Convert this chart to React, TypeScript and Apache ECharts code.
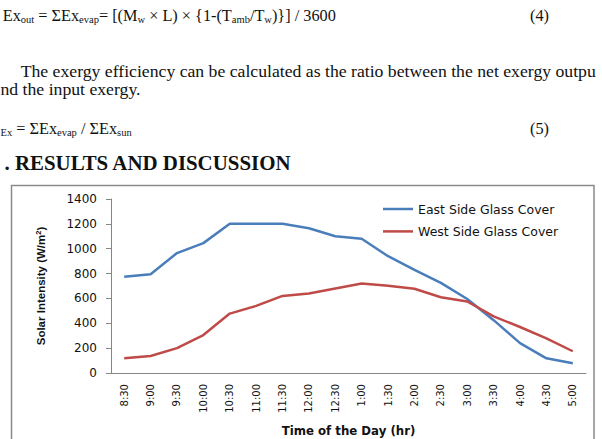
import React, { useEffect, useRef } from 'react';
import * as echarts from 'echarts';

const categories = ['8:30', '9:00', '9:30', '10:00', '10:30', '11:00', '11:30', '12:00', '12:30', '1:00', '1:30', '2:00', '2:30', '3:00', '3:30', '4:00', '4:30', '5:00'];
const eastSide = [775, 795, 965, 1045, 1200, 1200, 1200, 1165, 1100, 1080, 940, 830, 725, 595, 425, 240, 118, 78];
const westSide = [118, 137, 200, 305, 478, 540, 620, 640, 680, 720, 702, 678, 610, 575, 455, 370, 278, 175];
const seriesNames = ['East Side Glass Cover', 'West Side Glass Cover'];
const yMin = 0;
const yMax = 1400;
const yInterval = 200;

const serif = 'Liberation Serif';
const chartFont = 'DejaVu Sans';

export default function App() {
  const ref = useRef<HTMLDivElement>(null);
  useEffect(() => {
    const chart = echarts.init(ref.current!, null, { renderer: 'svg' });
    const rich = {
      n: { fontFamily: serif, fontSize: 16.3, lineHeight: 20, verticalAlign: 'middle', color: '#111' },
      s: { fontFamily: serif, fontSize: 10.5, lineHeight: 11, verticalAlign: 'bottom', color: '#111' },
    };
    const bodyText = (x: number, y: number, text: string, extra: any = {}) => ({
      type: 'text',
      x,
      y,
      silent: true,
      style: {
        text,
        fontFamily: serif,
        fontSize: 16.3,
        lineHeight: 20,
        fill: '#111',
        verticalAlign: 'middle',
        align: 'left',
        rich,
        ...extra,
      },
    });
    chart.setOption({
      animation: false,
      backgroundColor: '#fff',
      graphic: [
        bodyText(2.7, 15, '{n|Ex}{s|out}{n| = ΣEx}{s|evap}{n|= [(M}{s|w}{n| × L) × }{{n|1-(T}{s|amb}{n|/T}{s|w}{n|)}}] / 3600'),
        bodyText(530, 15, '(4)'),
        bodyText(20.7, 71, 'The exergy efficiency can be calculated as the ratio between the net exergy outpu', { fontSize: 17.7, lineHeight: 21 }),
        bodyText(0.5, 89, 'nd the input exergy.', { fontSize: 17.7, lineHeight: 21 }),
        bodyText(0.5, 128, '{s|Ex}{n| = ΣEx}{s|evap}{n| / ΣEx}{s|sun}'),
        bodyText(530, 128, '(5)'),
        bodyText(4.5, 163, '. RESULTS AND DISCUSSION', { fontWeight: 'bold', fontSize: 20.9, lineHeight: 24 }),
        {
          type: 'rect',
          silent: true,
          z: -1,
          shape: { x: 11.5, y: 185.5, width: 582.5, height: 300 },
          style: { fill: 'none', stroke: '#8a8a8a', lineWidth: 1.5 },
        },
      ],
      grid: { left: 111, right: 16, top: 199, bottom: 66 },
      legend: {
        data: seriesNames,
        orient: 'vertical',
        left: 383,
        top: 202,
        padding: 0,
        icon: 'rect',
        itemWidth: 30,
        itemHeight: 2.5,
        itemGap: 8.4,
        textStyle: { fontFamily: chartFont, fontSize: 12.5, color: '#111', lineHeight: 14 },
      },
      xAxis: {
        type: 'category',
        data: categories,
        boundaryGap: true,
        name: 'Time of the Day (hr)',
        nameLocation: 'middle',
        nameGap: 52,
        nameTextStyle: { fontFamily: chartFont, fontWeight: 'bold', fontSize: 11.75, color: '#111' },
        axisLine: { lineStyle: { color: '#868686', width: 1 } },
        axisTick: { show: false },
        axisLabel: { rotate: 90, margin: 11, fontFamily: chartFont, fontSize: 10, color: '#111', interval: 0 },
        splitLine: { show: false },
      },
      yAxis: {
        type: 'value',
        min: yMin,
        max: yMax,
        interval: yInterval,
        name: '{a|Solar Intensity (W/m}{p|2}{a|)}',
        nameLocation: 'middle',
        nameGap: 63,
        nameTextStyle: {
          fontFamily: 'Liberation Sans',
          fontWeight: 'bold',
          fontSize: 11.5,
          color: '#111',
          rich: {
            a: { fontFamily: 'Liberation Sans', fontWeight: 'bold', fontSize: 11.5, lineHeight: 14, verticalAlign: 'middle', color: '#111' },
            p: { fontFamily: 'Liberation Sans', fontWeight: 'bold', fontSize: 7.5, lineHeight: 8, verticalAlign: 'top', color: '#111' },
          },
        },
        axisLine: { show: true, lineStyle: { color: '#868686', width: 1 } },
        axisTick: { show: true, length: 5, lineStyle: { color: '#868686' } },
        axisLabel: { margin: 14, fontFamily: chartFont, fontSize: 12, color: '#111', formatter: (v: number) => String(v) },
        splitLine: { show: false },
      },
      series: [
        {
          name: seriesNames[0],
          type: 'line',
          data: eastSide,
          symbol: 'none',
          lineStyle: { color: '#4a7ebb', width: 2.5 },
          itemStyle: { color: '#4a7ebb' },
        },
        {
          name: seriesNames[1],
          type: 'line',
          data: westSide,
          symbol: 'none',
          lineStyle: { color: '#be4b48', width: 2.5 },
          itemStyle: { color: '#be4b48' },
        },
      ],
    });
    return () => chart.dispose();
  }, []);
  return (
    <div
      ref={ref}
      style={{ position: 'absolute', left: 0, top: 0, width: 602, height: 439, background: '#fff', overflow: 'hidden' }}
    />
  );
}
